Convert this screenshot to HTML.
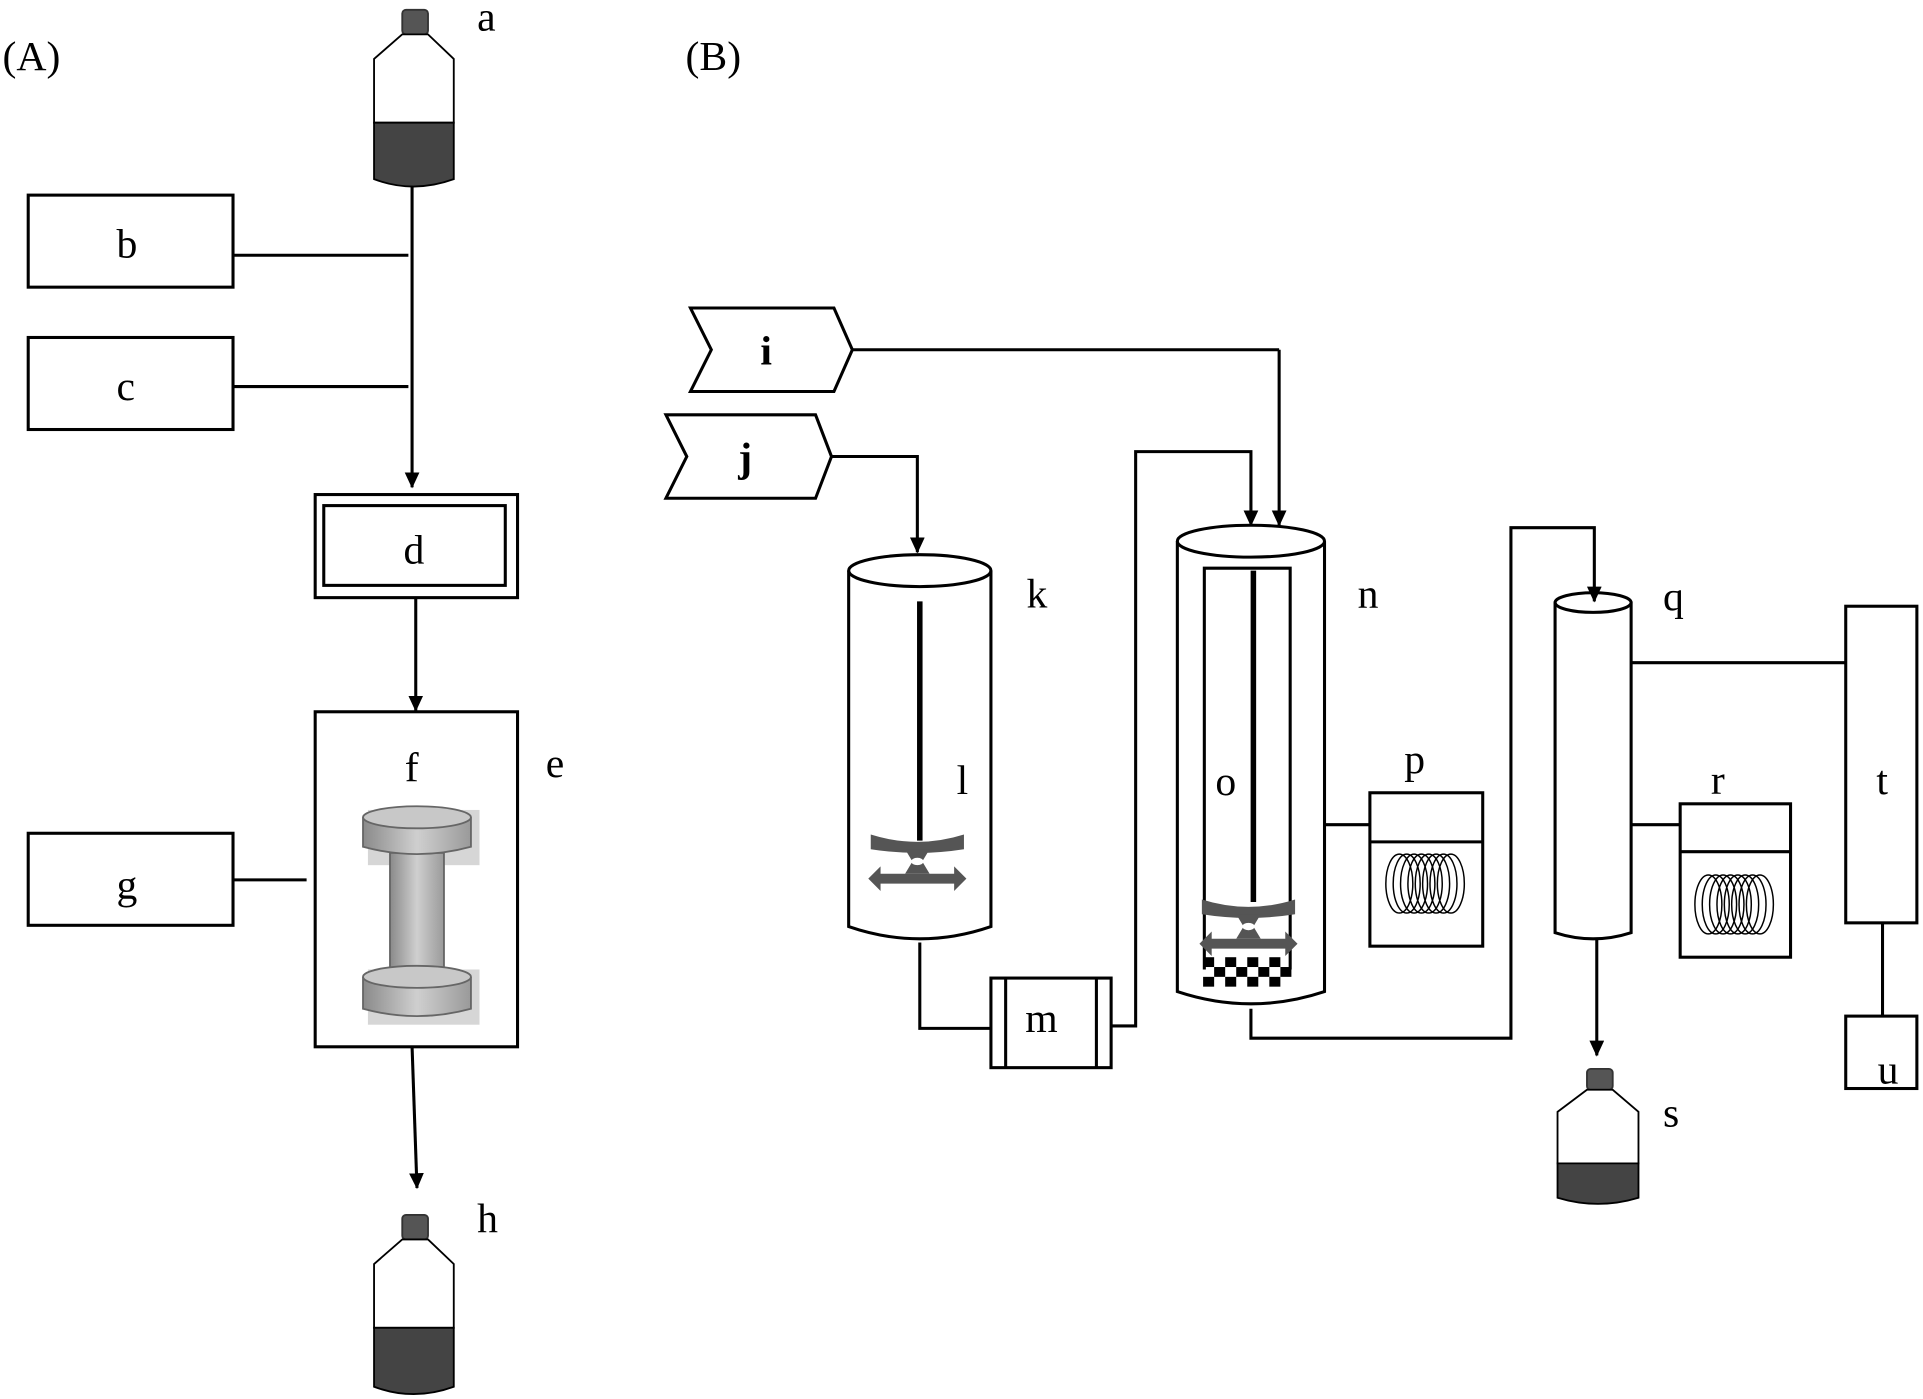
<!DOCTYPE html>
<html><head><meta charset="utf-8"><style>html,body{margin:0;padding:0;background:#fff}svg{display:block}</style></head>
<body>
<svg width="1923" height="1399" viewBox="0 0 1568 1140" preserveAspectRatio="none" xmlns="http://www.w3.org/2000/svg" font-family="Liberation Serif, serif" font-size="34" fill="none" stroke="#000" stroke-width="2.5">
<defs>
<marker id="ar" markerWidth="14" markerHeight="14" refX="12" refY="6" orient="auto" markerUnits="userSpaceOnUse"><path d="M0,0 L13,6 L0,12 z" fill="#000" stroke="none"/></marker>
<linearGradient id="gg" x1="0" x2="1" y1="0" y2="0"><stop offset="0" stop-color="#8a8a8a"/><stop offset="0.5" stop-color="#cfcfcf"/><stop offset="1" stop-color="#9a9a9a"/></linearGradient>
<g id="imp" fill="#555" stroke="none">
<path d="M-38,-22 Q0,-10 38,-22 L38,-10 Q0,-4 -38,-10 z"/>
<path d="M-10,-10 L10,-10 L4,0 L10,10 L-10,10 L-4,0 z"/>
<path d="M-40,14 L-30,4 L-30,10 L30,10 L30,4 L40,14 L30,24 L30,18 L-30,18 L-30,24 z"/>
<ellipse cx="0" cy="0" rx="5" ry="3" fill="#fff"/>
</g>
</defs>
<g fill="#000" stroke="none">
<text x="2" y="57">(A)</text>
<text x="559" y="57">(B)</text>
<text x="389" y="25">a</text>
<text x="95" y="210">b</text>
<text x="95" y="326">c</text>
<text x="329" y="459">d</text>
<text x="445" y="633">e</text>
<text x="330" y="637">f</text>
<text x="95" y="732">g</text>
<text x="389" y="1004">h</text>
<text x="620" y="297" font-weight="bold">i</text>
<text x="602" y="384" font-weight="bold">j</text>
<text x="837" y="495">k</text>
<text x="780" y="647">l</text>
<text x="836" y="841">m</text>
<text x="1107" y="495">n</text>
<text x="991" y="648">o</text>
<text x="1145" y="630">p</text>
<text x="1356" y="497">q</text>
<text x="1395" y="647">r</text>
<text x="1356" y="918">s</text>
<text x="1530" y="647">t</text>
<text x="1531" y="883">u</text>
</g>
<!-- bottle a -->
<rect x="328" y="8" width="21" height="20" rx="3" fill="#555" stroke="#333" stroke-width="1.5"/>
<path d="M328,28 L305,48 L305,100 L370,100 L370,48 L349,28 z" fill="#fff" stroke-width="1.5"/>
<path d="M305,100 L370,100 L370,146 Q337,158 305,146 z" fill="#444" stroke-width="1.5"/>
<!-- bottle h -->
<rect x="328" y="990" width="21" height="20" rx="3" fill="#555" stroke="#333" stroke-width="1.5"/>
<path d="M328,1010 L305,1030 L305,1082 L370,1082 L370,1030 L349,1010 z" fill="#fff" stroke-width="1.5"/>
<path d="M305,1082 L370,1082 L370,1130 Q337,1142 305,1130 z" fill="#444" stroke-width="1.5"/>
<!-- A panel -->
<line x1="336" y1="152" x2="336" y2="397" marker-end="url(#ar)"/>
<rect x="23" y="159" width="167" height="75"/>
<line x1="190" y1="208" x2="333" y2="208"/>
<rect x="23" y="275" width="167" height="75"/>
<line x1="190" y1="315" x2="333" y2="315"/>
<rect x="257" y="403" width="165" height="84"/>
<rect x="264" y="412" width="148" height="65"/>
<line x1="339" y1="487" x2="339" y2="579" marker-end="url(#ar)"/>
<rect x="257" y="580" width="165" height="273"/>
<rect x="23" y="679" width="167" height="75"/>
<line x1="190" y1="717" x2="250" y2="717"/>
<line x1="336" y1="853" x2="340" y2="968" marker-end="url(#ar)"/>
<!-- column f -->
<g stroke="#666" stroke-width="1.5">
<rect x="300" y="660" width="91" height="45" fill="#bbb" stroke="none" opacity="0.6"/>
<rect x="318" y="695" width="44" height="95" fill="url(#gg)"/>
<path d="M296,666 L296,690 Q340,702 384,690 L384,666" fill="url(#gg)"/>
<ellipse cx="340" cy="666" rx="44" ry="9" fill="#c8c8c8"/>
<rect x="300" y="790" width="91" height="45" fill="#bbb" stroke="none" opacity="0.6"/>
<path d="M296,796 L296,822 Q340,834 384,822 L384,796" fill="url(#gg)"/>
<ellipse cx="340" cy="796" rx="44" ry="9" fill="#c8c8c8"/>
</g>
<!-- i, j chevrons -->
<path d="M563,251 L680,251 L695,285 L680,319 L563,319 L580,285 z"/>
<line x1="695" y1="285" x2="1043" y2="285"/>
<line x1="1043" y1="285" x2="1043" y2="428" marker-end="url(#ar)"/>
<path d="M543,338 L665,338 L678,372 L665,406 L543,406 L560,372 z"/>
<polyline points="678,372 748,372 748,450" marker-end="url(#ar)"/>
<!-- vessel k -->
<path d="M692,465 L692,755 Q750,775 808,755 L808,465"/>
<ellipse cx="750" cy="465" rx="58" ry="13"/>
<line x1="750" y1="490" x2="750" y2="685" stroke-width="4.5"/>
<use href="#imp" x="748" y="702"/>
<polyline points="750,768 750,838 808,838"/>
<rect x="808" y="797" width="98" height="73"/>
<line x1="820" y1="797" x2="820" y2="870"/><line x1="894" y1="797" x2="894" y2="870"/>
<polyline points="906,836 926,836 926,368 1020,368 1020,428" marker-end="url(#ar)"/>
<!-- vessel n -->
<path d="M960,441 L960,808 Q1020,828 1080,808 L1080,441"/>
<ellipse cx="1020" cy="441" rx="60" ry="13"/>
<polyline points="982,790 982,463 1052,463 1052,790"/>
<line x1="1022" y1="465" x2="1022" y2="735" stroke-width="4.5"/>
<use href="#imp" x="1018" y="755"/>
<g fill="#000" stroke="none">
<rect x="981" y="780" width="9" height="8"/><rect x="999" y="780" width="9" height="8"/><rect x="1017" y="780" width="9" height="8"/><rect x="1035" y="780" width="9" height="8"/>
<rect x="990" y="788" width="9" height="8"/><rect x="1008" y="788" width="9" height="8"/><rect x="1026" y="788" width="9" height="8"/><rect x="1044" y="788" width="9" height="8"/>
<rect x="981" y="796" width="9" height="8"/><rect x="999" y="796" width="9" height="8"/><rect x="1017" y="796" width="9" height="8"/><rect x="1035" y="796" width="9" height="8"/>
</g>
<line x1="1080" y1="672" x2="1117" y2="672"/>
<rect x="1117" y="646" width="92" height="125"/>
<line x1="1117" y1="686" x2="1209" y2="686"/>
<g stroke-width="1.2">
<ellipse cx="1141" cy="720" rx="11" ry="24"/><ellipse cx="1147" cy="720" rx="11" ry="24"/><ellipse cx="1153" cy="720" rx="11" ry="24"/><ellipse cx="1159" cy="720" rx="11" ry="24"/><ellipse cx="1165" cy="720" rx="11" ry="24"/><ellipse cx="1171" cy="720" rx="11" ry="24"/><ellipse cx="1177" cy="720" rx="11" ry="24"/><ellipse cx="1183" cy="720" rx="11" ry="24"/>
</g>
<polyline points="1020,822 1020,846 1232,846 1232,430 1300,430 1300,490" marker-end="url(#ar)"/>
<!-- q column -->
<path d="M1268,491 L1268,760 Q1299,770 1330,760 L1330,491"/>
<ellipse cx="1299" cy="491" rx="31" ry="8"/>
<line x1="1330" y1="540" x2="1505" y2="540"/>
<rect x="1505" y="494" width="58" height="258"/>
<line x1="1330" y1="672" x2="1370" y2="672"/>
<rect x="1370" y="655" width="90" height="125"/>
<line x1="1370" y1="694" x2="1460" y2="694"/>
<g stroke-width="1.2">
<ellipse cx="1393" cy="737" rx="11" ry="24"/><ellipse cx="1399" cy="737" rx="11" ry="24"/><ellipse cx="1405" cy="737" rx="11" ry="24"/><ellipse cx="1411" cy="737" rx="11" ry="24"/><ellipse cx="1417" cy="737" rx="11" ry="24"/><ellipse cx="1423" cy="737" rx="11" ry="24"/><ellipse cx="1429" cy="737" rx="11" ry="24"/><ellipse cx="1435" cy="737" rx="11" ry="24"/>
</g>
<line x1="1535" y1="752" x2="1535" y2="828"/>
<rect x="1505" y="828" width="58" height="59"/>
<line x1="1302" y1="766" x2="1302" y2="860" marker-end="url(#ar)"/>
<!-- bottle s -->
<rect x="1294" y="871" width="21" height="17" rx="3" fill="#555" stroke="#333" stroke-width="1.5"/>
<path d="M1294,888 L1270,906 L1270,948 L1336,948 L1336,906 L1315,888 z" fill="#fff" stroke-width="1.5"/>
<path d="M1270,948 L1336,948 L1336,976 Q1303,986 1270,976 z" fill="#444" stroke-width="1.5"/>
</svg>
</body></html>
